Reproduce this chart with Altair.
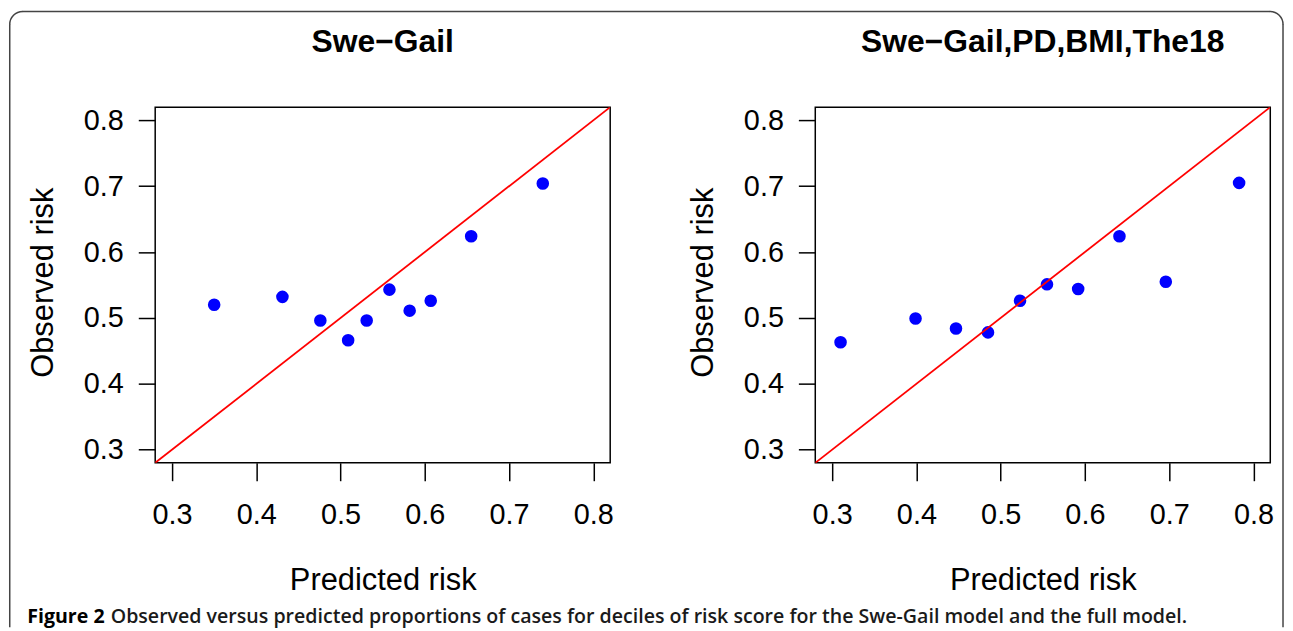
import math
import altair as alt
import pandas as pd

# ---- data ----
panel_titles = ["Swe\u2212Gail", "Swe\u2212Gail,PD,BMI,The18"]
tick_values = [0.3, 0.4, 0.5, 0.6, 0.7, 0.8]
axis_range = [0.28, 0.82]

pred_swegail = [0.350, 0.431, 0.476, 0.509, 0.531, 0.558, 0.582, 0.607, 0.655, 0.740]
obs_swegail = [0.520, 0.532, 0.496, 0.466, 0.496, 0.543, 0.511, 0.526, 0.624, 0.704]

pred_full = [0.310, 0.399, 0.447, 0.485, 0.523, 0.555, 0.592, 0.641, 0.696, 0.783]
obs_full = [0.463, 0.499, 0.484, 0.478, 0.526, 0.551, 0.544, 0.624, 0.555, 0.705]

caption_bold = ["Figure 2"]
caption_rest = ["Observed versus predicted proportions of cases for deciles of risk score for the Swe-Gail model and the full model."]

# ---- layout ----
W = 457.5
H = 357.6
FONT = "Liberation Sans"
BORDER = "#444444"


def axes():
    xaxis = alt.Axis(values=tick_values, format=".1f", title="Predicted risk",
                     tickSize=18, labelPadding=20, labelFlush=False,
                     titleY=127.5, titleBaseline="alphabetic")
    yaxis = alt.Axis(values=tick_values, format=".1f", title="Observed risk",
                     tickSize=17, labelPadding=15, labelFlush=False,
                     titleX=-103.5, titleY=176, titleBaseline="alphabetic",
                     titleAlign="center", titleAngle=270)
    return xaxis, yaxis


def panel(title, pred, obs, border=False):
    xaxis, yaxis = axes()
    xs = alt.Scale(domain=axis_range, nice=False, zero=False)
    ys = alt.Scale(domain=axis_range, nice=False, zero=False)
    pts = alt.Chart(pd.DataFrame({"pred": pred, "obs": obs})).mark_circle(
        size=160, color="#0000FF", opacity=1
    ).encode(
        x=alt.X("pred:Q", scale=xs, axis=xaxis),
        y=alt.Y("obs:Q", scale=ys, axis=yaxis),
    )
    diag = alt.Chart(pd.DataFrame({"pred": axis_range, "obs": axis_range})).mark_line(
        color="#FF0000", strokeWidth=1.8, clip=True
    ).encode(
        x=alt.X("pred:Q", scale=xs, axis=xaxis),
        y=alt.Y("obs:Q", scale=ys, axis=yaxis),
    )
    ttl = alt.Chart(pd.DataFrame({"t": [title]})).mark_text(
        font=FONT, fontSize=32, fontWeight="bold", align="center",
        baseline="alphabetic", color="black"
    ).encode(text="t:N", x=alt.value(W / 2), y=alt.value(-55.5))
    layers = [pts, diag, ttl]
    if border:
        L, T, R, B, r = -146.25, -96.25, 1134.0, 523.0, 13.0
        rule_kw = dict(color=BORDER, strokeWidth=1.5)
        arc_kw = dict(stroke=BORDER, strokeWidth=1.5, fillOpacity=0, strokeJoin="round")
        layers += [
            alt.Chart(pd.DataFrame({"k": [0]})).mark_rule(**rule_kw).encode(
                x=alt.value(L), y=alt.value(T + r), y2=alt.value(B)),
            alt.Chart(pd.DataFrame({"k": [0]})).mark_rule(**rule_kw).encode(
                x=alt.value(R), y=alt.value(T + r), y2=alt.value(B)),
            alt.Chart(pd.DataFrame({"k": [0]})).mark_rule(**rule_kw).encode(
                x=alt.value(L + r), x2=alt.value(R - r), y=alt.value(T)),
            alt.Chart(pd.DataFrame({"k": [0]})).mark_arc(
                radius=r, radius2=r, theta=1.5 * math.pi, theta2=2 * math.pi, **arc_kw
            ).encode(x=alt.value(L + r), y=alt.value(T + r)),
            alt.Chart(pd.DataFrame({"k": [0]})).mark_arc(
                radius=r, radius2=r, theta=0, theta2=0.5 * math.pi, **arc_kw
            ).encode(x=alt.value(R - r), y=alt.value(T + r)),
            alt.Chart(pd.DataFrame({"t": caption_bold})).mark_text(
                font="Open Sans", fontSize=19.7, fontWeight="bold", align="left",
                baseline="alphabetic", color="black"
            ).encode(text="t:N", x=alt.value(-128.7), y=alt.value(519)),
            alt.Chart(pd.DataFrame({"t": caption_rest})).mark_text(
                font="Open Sans", fontSize=19.7, fontWeight=600, align="left",
                baseline="alphabetic", color="#1a1a1a"
            ).encode(text="t:N", x=alt.value(-44.7), y=alt.value(519)),
        ]
    return alt.layer(*layers).properties(width=W, height=H)


left = panel(panel_titles[0], pred_swegail, obs_swegail, border=True)
right = panel(panel_titles[1], pred_full, obs_full)

chart = alt.hconcat(left, right, spacing=205.7, bounds="flush").properties(
    padding=0
).configure_view(
    stroke="black", strokeWidth=1.5
).configure_axis(
    grid=False, domain=False, tickColor="black", tickWidth=1.5,
    labelFont=FONT, labelFontSize=29, labelColor="black",
    titleFont=FONT, titleFontSize=31, titleFontWeight="normal", titleColor="black",
)

chart.save("out.html", embed_options={"renderer": "svg", "actions": False})
